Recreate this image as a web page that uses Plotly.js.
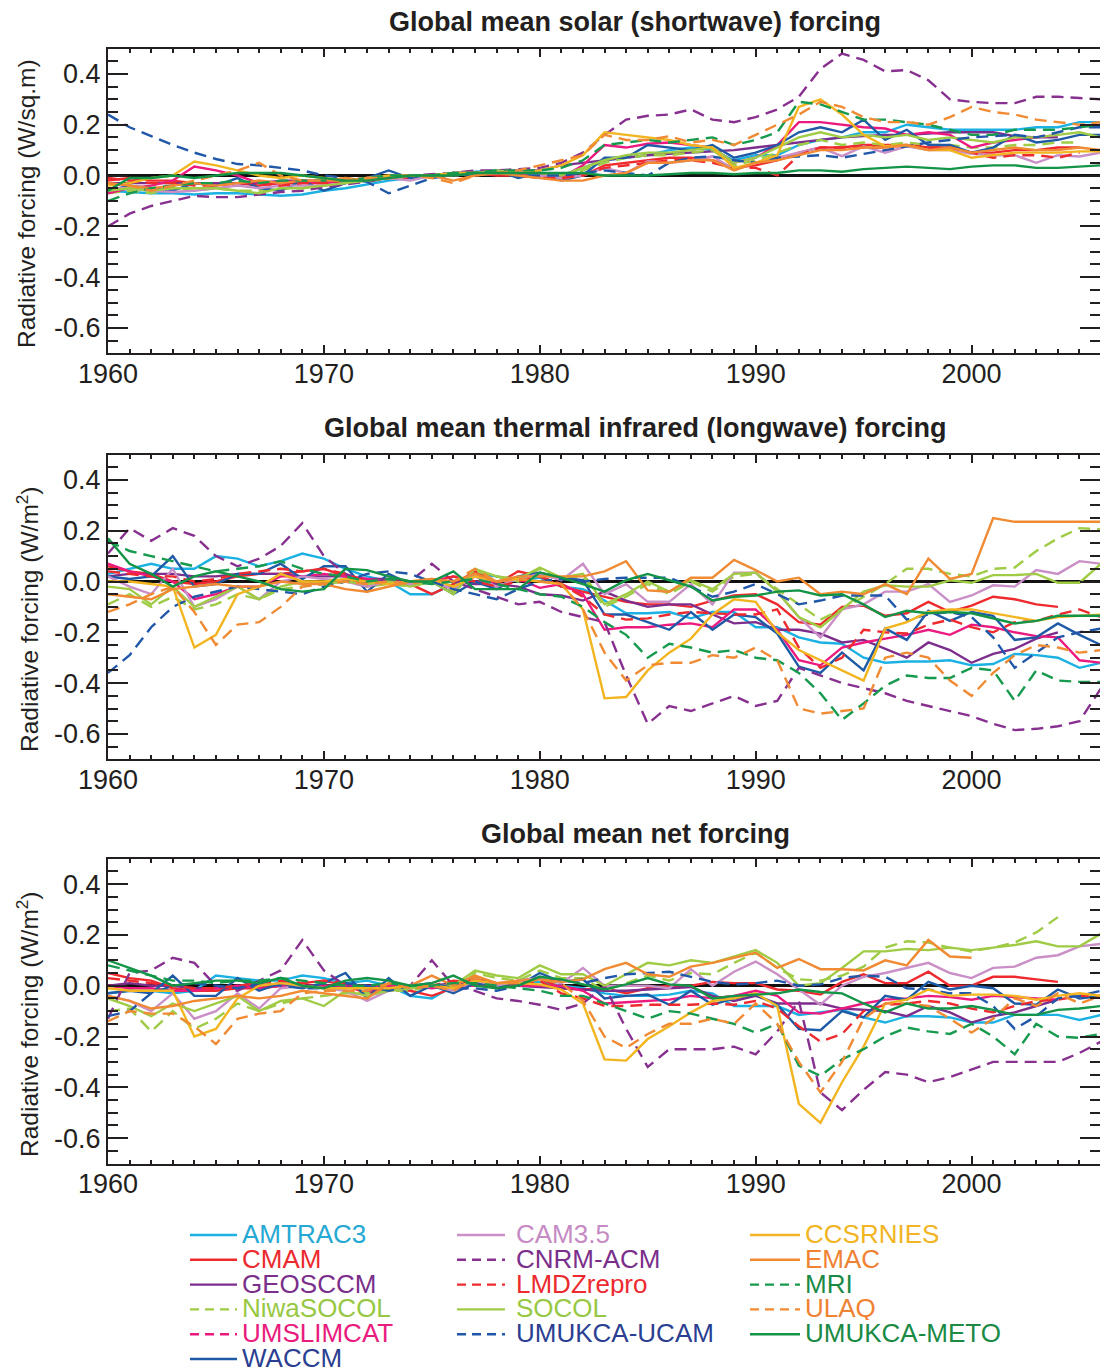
<!DOCTYPE html>
<html>
<head>
<meta charset="utf-8">
<script src="https://cdn.plot.ly/plotly-3.0.1.min.js"></script>
<style>
  html, body { margin: 0; padding: 0; background: #fff; }
  #chart { width: 1100px; height: 1372px; }
</style>
</head>
<body>
<div id="chart"></div>
<script>
// Years of the simulations
const years = [1960,1961,1962,1963,1964,1965,1966,1967,1968,1969,
               1970,1971,1972,1973,1974,1975,1976,1977,1978,1979,
               1980,1981,1982,1983,1984,1985,1986,1987,1988,1989,
               1990,1991,1992,1993,1994,1995,1996,1997,1998,1999,
               2000,2001,2002,2003,2004,2005,2006];

const yTickVals = [0.4, 0.2, 0.0, -0.2, -0.4, -0.6];
const yTickText = ['0.4', '0.2', '0.0', '-0.2', '-0.4', '-0.6'];
const xTickVals = [1960, 1970, 1980, 1990, 2000];
const xTickText = ['1960', '1970', '1980', '1990', '2000'];

const panelTitles = ['Global mean solar (shortwave) forcing',
                     'Global mean thermal infrared (longwave) forcing',
                     'Global mean net forcing'];
const yTitles = ['Radiative forcing (W/sq.m)',
                 'Radiative forcing (W/m<sup>2</sup>)',
                 'Radiative forcing (W/m<sup>2</sup>)'];

// ---------- shortwave forcing (W/m2) ----------
const swAMTRAC3 = [-0.06,-0.065,-0.07,-0.07,-0.075,-0.07,-0.07,-0.075,-0.08,-0.075,
  -0.06,-0.05,-0.035,-0.02,-0.01,0.0,0.01,0.015,0.02,0.01,
  0.01,0.0,0.03,0.06,0.07,0.08,0.1,0.11,0.1,0.06,
  0.08,0.08,0.12,0.14,0.15,0.17,0.17,0.2,0.19,0.18,
  0.18,0.18,0.18,0.19,0.19,0.21,0.21];
const swCAM35 = [-0.05,-0.05,-0.06,-0.065,-0.06,-0.05,-0.04,-0.05,-0.04,-0.04,
  -0.04,-0.03,-0.02,-0.01,-0.02,0.0,0.0,0.01,0.02,0.02,
  0.0,-0.01,0.0,0.03,0.01,0.056,0.05,0.06,0.076,0.024,
  0.05,0.07,0.09,0.11,0.076,0.115,0.09,0.115,0.1,0.1,
  0.085,0.08,0.08,0.05,0.08,0.075,0.09];
const swCCSRNIES = [-0.04,-0.03,-0.01,0.0,0.055,0.04,0.02,0.0,-0.01,0.0,
  -0.01,-0.02,-0.01,0.0,0.0,0.0,0.01,0.01,0.01,0.01,
  0.02,0.04,0.08,0.17,0.16,0.15,0.14,0.12,0.11,0.03,
  0.05,0.08,0.27,0.30,0.24,0.16,0.115,0.12,0.10,0.10,
  0.07,0.08,0.09,0.09,0.09,0.095,0.095];
const swCMAM = [-0.02,-0.01,-0.02,-0.02,-0.03,-0.03,-0.03,-0.04,-0.03,-0.03,
  -0.03,-0.02,-0.02,-0.01,-0.01,0.0,0.0,0.01,0.0,0.0,
  0.0,-0.01,0.0,0.04,0.05,0.06,0.07,0.07,0.06,0.03,
  0.04,0.06,0.09,0.11,0.11,0.12,0.12,0.12,0.11,0.11,
  0.09,0.09,0.1,0.1,0.11,0.11,null];
const swCNRMACM = [-0.2,-0.15,-0.12,-0.1,-0.08,-0.085,-0.085,-0.075,-0.065,-0.06,
  -0.045,-0.035,-0.025,-0.01,0.0,0.005,0.01,0.02,0.02,0.025,
  0.03,0.05,0.09,0.16,0.22,0.235,0.24,0.26,0.22,0.21,
  0.23,0.26,0.31,0.42,0.48,0.455,0.41,0.415,0.375,0.3,
  0.29,0.285,0.285,0.31,0.31,0.305,0.3];
const swEMAC = [-0.03,-0.04,-0.05,-0.04,-0.03,-0.04,-0.03,-0.02,-0.03,-0.02,
  -0.02,-0.01,-0.02,-0.01,0.0,0.0,-0.02,0.0,0.01,0.0,
  -0.01,-0.02,-0.02,0.0,0.01,0.05,0.05,0.06,0.06,0.02,
  0.05,0.06,0.08,0.1,0.1,0.11,0.11,0.12,0.1,0.11,
  0.09,0.1,0.11,0.1,0.1,0.11,0.1];
const swGEOSCCM = [-0.03,-0.03,-0.03,-0.03,-0.03,-0.03,-0.03,-0.03,-0.02,-0.02,
  -0.02,-0.02,-0.01,-0.01,0.0,0.0,0.01,0.01,0.02,0.02,
  0.02,0.04,0.05,0.06,0.07,0.08,0.085,0.09,0.095,0.1,
  0.11,0.12,0.13,0.14,0.15,0.155,0.16,0.16,0.165,0.17,
  0.17,0.17,0.155,0.15,0.15,null,null];
const swLMDZrepro = [-0.01,-0.02,-0.03,-0.03,-0.04,-0.04,-0.03,-0.03,-0.04,-0.03,
  -0.03,-0.02,-0.02,-0.01,0.0,0.0,0.0,0.01,0.01,0.0,
  -0.01,-0.01,0.0,0.03,0.04,0.05,0.06,0.06,0.05,0.03,
  0.03,0.0,0.08,0.11,0.11,0.11,0.11,0.12,0.11,0.11,
  0.09,0.07,0.08,0.08,0.07,0.09,null];
const swMRI = [-0.1,-0.07,-0.05,-0.04,-0.03,-0.03,-0.02,-0.03,-0.02,-0.02,
  -0.02,-0.02,-0.01,0.0,0.0,0.0,0.01,0.01,0.02,0.02,
  0.02,0.03,0.06,0.12,0.13,0.14,0.13,0.14,0.15,0.12,
  0.14,0.17,0.29,0.28,0.25,0.22,0.22,0.21,0.2,0.18,
  0.16,0.16,0.18,0.18,0.18,0.19,0.2];
const swNiwaSOCOL = [-0.07,-0.06,-0.07,-0.05,-0.06,-0.05,-0.06,-0.06,-0.05,-0.05,
  -0.04,-0.03,-0.02,-0.01,-0.01,0.0,0.0,0.01,0.01,0.01,
  0.01,0.0,0.02,0.05,0.07,0.08,0.08,0.09,0.1,0.04,
  0.06,0.09,0.12,0.14,0.12,0.13,0.12,0.13,0.12,0.12,
  0.11,0.11,0.12,0.12,0.13,0.13,null];
const swSOCOL = [-0.06,-0.05,-0.06,-0.05,-0.05,-0.05,-0.06,-0.07,-0.05,-0.05,
  -0.04,-0.03,-0.02,-0.01,0.0,0.0,0.01,0.01,0.02,0.01,
  0.01,0.0,0.03,0.06,0.08,0.09,0.09,0.1,0.11,0.05,
  0.07,0.11,0.15,0.17,0.15,0.16,0.15,0.16,0.14,0.15,
  0.14,0.13,0.15,0.15,0.16,0.17,0.15];
const swULAQ = [-0.03,-0.04,-0.06,-0.04,-0.02,0.0,0.02,0.05,0.0,-0.02,
  -0.02,-0.02,-0.01,-0.01,0.0,-0.01,-0.03,0.0,0.01,0.02,
  0.04,0.06,0.08,0.16,0.14,0.14,0.155,0.13,0.14,0.12,
  0.16,0.2,0.24,0.29,0.27,0.23,0.21,0.21,0.2,0.23,
  0.27,0.25,0.24,0.22,0.21,0.2,0.21];
const swUMSLIMCAT = [-0.07,-0.05,-0.04,-0.02,0.035,0.02,0.0,-0.03,-0.03,-0.02,
  -0.03,-0.02,-0.01,-0.01,0.0,0.0,0.01,0.01,0.01,0.01,
  0.0,-0.01,0.04,0.12,0.11,0.125,0.13,0.12,0.11,0.05,
  0.07,0.12,0.21,0.21,0.2,0.19,0.185,0.16,0.17,0.16,
  0.11,0.13,0.14,0.15,0.16,null,null];
const swUMUKCAUCAM = [0.24,0.19,0.155,0.12,0.09,0.065,0.045,0.04,0.03,0.02,
  0.0,-0.01,-0.025,-0.07,-0.04,-0.01,0.0,0.01,0.01,0.0,
  0.0,0.0,0.01,0.02,0.01,0.0,0.05,0.07,0.075,0.06,
  0.05,0.07,0.075,0.08,0.07,0.085,0.1,0.115,0.13,0.14,
  0.15,0.155,0.16,0.15,0.17,0.19,0.19];
const swUMUKCAMETO = [-0.06,-0.01,-0.01,0.0,-0.01,0.0,0.01,0.01,0.01,0.0,
  -0.01,-0.02,-0.02,-0.01,0.0,0.0,0.0,0.01,0.01,0.01,
  0.01,0.01,0.01,0.0,0.0,0.0,0.005,0.01,0.01,0.005,
  0.01,0.01,0.02,0.02,0.015,0.025,0.03,0.035,0.03,0.025,
  0.035,0.04,0.04,0.03,0.03,0.035,0.04];
const swWACCM = [-0.06,-0.04,-0.05,-0.06,-0.03,-0.04,-0.01,-0.05,-0.06,-0.02,
  -0.06,-0.03,-0.01,0.02,-0.01,0.0,0.01,0.0,0.02,-0.01,
  0.01,-0.02,0.0,0.07,0.07,0.12,0.11,0.1,0.12,0.07,
  0.09,0.12,0.17,0.19,0.17,0.22,0.14,0.18,0.12,0.12,
  0.09,0.11,0.16,0.13,0.14,0.16,0.16];

// ---------- longwave forcing (W/m2) ----------
const lwAMTRAC3 = [0.03,0.05,0.07,0.05,0.05,0.1,0.09,0.06,0.08,0.11,
  0.09,0.05,0.02,0.0,-0.05,-0.05,-0.01,0.03,0.02,0.0,
  0.015,-0.02,-0.03,-0.075,-0.125,-0.125,-0.12,-0.145,-0.12,-0.12,
  -0.18,-0.18,-0.22,-0.24,-0.245,-0.3,-0.32,-0.315,-0.315,-0.31,
  -0.33,-0.325,-0.285,-0.29,-0.3,-0.34,-0.32];
const lwCAM35 = [0.02,-0.02,-0.05,0.05,-0.1,-0.07,-0.02,-0.07,0.0,0.02,
  0.01,0.0,-0.02,0.0,-0.01,0.0,-0.03,0.02,-0.02,0.01,
  0.03,0.005,0.07,-0.05,-0.01,-0.08,-0.08,-0.01,-0.09,0.035,
  0.035,-0.04,-0.14,-0.22,-0.11,-0.09,-0.04,-0.04,-0.01,-0.08,
  -0.055,-0.015,-0.02,0.045,0.03,0.08,0.07];
const lwCCSRNIES = [0.0,0.0,-0.01,-0.02,-0.26,-0.21,-0.05,-0.02,0.03,0.0,
  0.0,0.01,0.0,-0.01,0.0,0.01,-0.02,0.02,0.0,0.01,
  0.0,-0.01,-0.11,-0.46,-0.455,-0.35,-0.28,-0.225,-0.13,-0.07,
  -0.08,-0.2,-0.27,-0.31,-0.35,-0.39,-0.185,-0.16,-0.12,-0.11,
  -0.11,-0.125,-0.14,-0.155,-0.14,-0.135,-0.13];
const lwCMAM = [0.06,0.04,0.03,0.0,-0.01,0.0,0.02,0.03,0.03,0.04,
  0.05,0.02,-0.02,0.0,-0.01,-0.05,-0.01,0.04,-0.01,0.04,
  0.02,-0.02,-0.04,-0.06,-0.08,-0.09,-0.09,-0.1,-0.075,-0.055,
  -0.05,-0.09,-0.16,-0.17,-0.1,-0.095,-0.135,-0.125,-0.08,-0.12,
  -0.095,-0.06,-0.07,-0.09,-0.1,null,null];
const lwCNRMACM = [0.11,0.21,0.16,0.21,0.18,0.1,0.06,0.09,0.14,0.23,
  0.1,0.03,0.0,0.01,0.0,0.07,0.0,-0.03,-0.06,-0.09,
  -0.08,-0.12,-0.14,-0.16,-0.37,-0.56,-0.49,-0.51,-0.48,-0.45,
  -0.49,-0.47,-0.34,-0.37,-0.4,-0.42,-0.44,-0.47,-0.49,-0.51,
  -0.53,-0.56,-0.585,-0.58,-0.57,-0.55,-0.42];
const lwEMAC = [-0.05,-0.06,-0.07,-0.03,-0.02,-0.01,-0.02,-0.02,0.0,-0.01,
  -0.01,-0.03,-0.04,-0.02,0.0,0.01,0.0,0.03,0.0,0.02,
  0.02,0.02,0.02,0.04,0.08,-0.035,-0.04,0.015,0.015,0.085,
  0.045,0.0,0.015,-0.05,-0.04,-0.05,-0.01,-0.05,0.09,0.01,
  0.03,0.25,0.235,0.235,0.235,0.235,0.235];
const lwGEOSCCM = [0.02,0.03,0.03,0.03,0.02,0.02,0.03,0.03,0.03,0.02,
  0.02,0.02,0.01,0.01,0.0,0.0,0.0,-0.01,-0.01,-0.02,
  -0.05,-0.055,-0.075,-0.04,-0.075,-0.1,-0.09,-0.09,-0.13,-0.165,
  -0.16,-0.19,-0.19,-0.205,-0.24,-0.23,-0.265,-0.3,-0.24,-0.27,
  -0.32,-0.285,-0.265,-0.225,-0.2,null,null];
const lwLMDZrepro = [0.04,0.03,0.02,0.02,0.0,0.01,0.03,0.04,0.05,0.04,
  0.05,0.03,0.0,-0.01,0.0,0.0,0.02,0.0,-0.02,0.0,
  0.02,-0.01,-0.06,-0.13,-0.15,-0.145,-0.13,-0.12,-0.125,-0.13,
  -0.13,-0.11,-0.26,-0.34,-0.3,-0.19,-0.2,-0.205,-0.17,-0.15,
  -0.18,-0.2,-0.16,-0.155,-0.13,-0.11,-0.14];
const lwMRI = [0.16,0.12,0.1,0.08,0.06,0.04,0.05,0.06,0.08,0.05,
  0.03,0.02,0.0,0.01,0.0,-0.01,0.0,0.01,-0.01,-0.03,
  -0.05,-0.06,-0.1,-0.16,-0.21,-0.3,-0.245,-0.26,-0.28,-0.27,
  -0.3,-0.31,-0.36,-0.44,-0.545,-0.48,-0.41,-0.37,-0.38,-0.38,
  -0.34,-0.35,-0.47,-0.35,-0.39,-0.395,-0.395];
const lwNiwaSOCOL = [-0.09,-0.05,-0.1,-0.06,-0.11,-0.09,-0.05,-0.07,-0.03,-0.02,
  -0.01,0.0,-0.02,-0.01,-0.02,0.0,-0.04,0.04,0.02,0.0,
  0.05,0.01,0.02,-0.1,-0.06,-0.01,-0.05,0.0,-0.04,0.02,
  0.03,-0.03,-0.09,-0.15,-0.11,-0.06,-0.01,0.05,0.05,0.03,
  0.02,0.05,0.055,0.12,0.17,0.21,0.205];
const lwSOCOL = [-0.02,-0.03,-0.09,-0.02,-0.1,-0.06,-0.02,-0.07,-0.02,0.0,
  -0.01,0.0,-0.01,0.0,-0.02,0.0,-0.05,0.05,0.02,0.01,
  0.055,0.015,0.03,-0.09,-0.05,0.0,-0.04,0.005,-0.03,0.03,
  0.035,-0.04,-0.14,-0.18,-0.11,-0.04,-0.015,-0.02,-0.02,0.005,
  -0.005,0.025,0.025,0.03,-0.005,-0.005,0.07];
const lwULAQ = [-0.12,-0.09,-0.05,-0.02,-0.12,-0.25,-0.17,-0.16,-0.1,-0.02,
  -0.01,0.0,-0.01,0.0,-0.01,0.01,0.0,0.05,0.0,0.01,
  0.0,-0.01,-0.11,-0.28,-0.39,-0.33,-0.32,-0.32,-0.29,-0.3,
  -0.26,-0.31,-0.5,-0.52,-0.51,-0.5,-0.3,-0.28,-0.3,-0.39,
  -0.45,-0.36,-0.29,-0.25,-0.26,-0.28,-0.27];
const lwUMSLIMCAT = [0.07,0.04,0.02,0.0,-0.07,-0.05,-0.02,-0.02,0.02,0.02,
  0.03,0.02,0.01,0.0,0.0,0.0,0.02,0.0,0.0,0.01,
  -0.025,-0.01,-0.05,-0.19,-0.18,-0.18,-0.17,-0.165,-0.18,-0.11,
  -0.11,-0.19,-0.31,-0.33,-0.26,-0.24,-0.225,-0.21,-0.19,-0.21,
  -0.17,-0.18,-0.2,-0.215,-0.22,-0.31,-0.32];
const lwUMUKCAUCAM = [-0.36,-0.29,-0.18,-0.1,-0.06,-0.04,-0.02,-0.03,-0.04,-0.05,
  -0.02,0.0,0.03,0.04,0.03,0.0,-0.03,-0.05,-0.07,-0.03,
  0.0,0.01,0.0,0.01,0.015,0.015,0.015,-0.02,-0.06,-0.04,
  -0.01,-0.05,-0.09,-0.075,-0.055,-0.055,-0.055,-0.15,-0.13,-0.12,
  -0.14,-0.22,-0.34,-0.28,-0.22,-0.2,-0.185];
const lwUMUKCAMETO = [0.17,0.07,0.03,-0.02,0.02,0.04,0.02,0.0,-0.03,-0.04,
  -0.03,0.05,0.045,0.02,0.0,0.0,0.04,-0.03,-0.03,-0.03,
  0.035,0.015,-0.01,-0.04,0.005,0.03,0.005,-0.02,-0.075,-0.06,
  -0.055,-0.04,-0.035,-0.055,-0.05,-0.09,-0.14,-0.115,-0.125,-0.12,
  -0.125,-0.145,-0.165,-0.155,-0.135,-0.135,-0.135];
const lwWACCM = [0.02,0.01,0.02,0.1,-0.02,-0.01,0.03,0.03,0.07,0.01,
  0.06,0.06,-0.04,0.03,-0.01,0.0,-0.05,0.0,-0.03,0.02,
  0.035,0.015,0.005,-0.13,-0.13,-0.16,-0.19,-0.12,-0.19,-0.13,
  -0.14,-0.205,-0.335,-0.36,-0.28,-0.35,-0.185,-0.23,-0.115,-0.155,
  -0.12,-0.135,-0.23,-0.22,-0.165,-0.21,-0.25];

// ---------- net forcing (W/m2) ----------
const netAMTRAC3 = [-0.03,-0.02,-0.02,-0.03,-0.02,0.04,0.03,0.02,0.02,0.04,
  0.03,0.01,0.02,0.0,-0.04,-0.05,0.0,0.03,0.01,0.01,
  0.015,0.0,-0.01,-0.03,-0.04,-0.04,-0.035,-0.02,-0.03,-0.08,
  -0.08,-0.08,-0.115,-0.105,-0.095,-0.125,-0.145,-0.12,-0.12,-0.125,
  -0.145,-0.145,-0.115,-0.115,-0.115,-0.135,-0.115];
const netCAM35 = [-0.04,-0.06,-0.1,-0.03,-0.13,-0.1,-0.03,-0.09,-0.01,0.0,
  -0.01,-0.02,-0.06,-0.02,-0.01,0.0,-0.02,0.02,0.0,0.02,
  0.03,0.01,0.07,0.0,0.0,0.0,-0.01,0.065,0.0,0.055,
  0.095,0.045,-0.015,-0.075,0.0,0.035,0.05,0.07,0.09,0.05,
  0.03,0.07,0.075,0.11,0.12,0.155,0.165];
const netCCSRNIES = [-0.01,-0.02,-0.02,-0.02,-0.2,-0.17,-0.05,0.0,0.01,0.0,
  -0.01,-0.01,-0.01,-0.01,0.0,0.0,-0.01,0.02,0.01,0.01,
  0.005,-0.015,-0.07,-0.29,-0.295,-0.21,-0.16,-0.105,-0.06,-0.05,
  -0.03,-0.08,-0.465,-0.54,-0.38,-0.24,-0.07,-0.055,-0.015,-0.04,
  -0.035,-0.035,-0.04,-0.055,-0.04,-0.03,-0.04];
const netCMAM = [0.05,0.03,0.02,-0.01,-0.02,-0.02,-0.01,-0.01,0.0,0.01,
  0.02,0.0,-0.03,-0.01,-0.02,-0.04,-0.01,0.03,0.0,0.02,
  0.03,-0.01,-0.015,-0.01,-0.03,-0.01,0.0,0.0,0.015,0.01,
  0.01,-0.015,-0.02,-0.035,0.015,0.045,0.01,0.01,0.055,0.0,
  0.0,0.035,0.035,0.025,0.015,null,null];
const netCNRMACM = [-0.13,0.05,0.06,0.11,0.09,0.0,-0.02,0.02,0.06,0.18,
  0.06,0.0,-0.02,-0.01,0.0,0.1,0.0,-0.02,-0.05,-0.06,
  -0.075,-0.095,-0.07,0.0,-0.17,-0.32,-0.25,-0.25,-0.25,-0.24,
  -0.27,-0.18,-0.06,-0.42,-0.49,-0.41,-0.34,-0.35,-0.38,-0.36,
  -0.33,-0.3,-0.3,-0.3,-0.3,-0.265,-0.22];
const netEMAC = [-0.04,-0.06,-0.09,-0.08,-0.06,-0.05,-0.04,-0.05,-0.04,-0.02,
  -0.03,-0.04,-0.05,0.01,0.0,0.04,0.0,0.04,0.01,0.02,
  0.025,0.015,0.025,0.065,0.09,0.045,0.035,0.075,0.09,0.11,
  0.13,0.07,0.105,0.065,0.065,0.06,0.1,0.08,0.18,0.115,
  0.11,null,null,null,null,null,null];
const netGEOSCCM = [0.0,0.01,0.0,0.0,-0.01,-0.01,0.0,0.0,0.01,0.0,
  0.0,0.0,-0.01,0.0,0.0,0.0,0.01,0.0,0.0,0.0,
  -0.005,-0.01,-0.015,-0.02,-0.02,-0.015,-0.01,-0.005,-0.04,-0.06,
  -0.04,-0.07,-0.07,-0.07,-0.09,-0.095,-0.1,-0.12,-0.08,-0.105,
  -0.145,-0.12,-0.105,-0.08,-0.055,null,null];
const netLMDZrepro = [0.03,0.02,0.01,0.0,-0.01,-0.01,0.0,0.01,0.02,0.01,
  0.02,0.01,-0.01,-0.01,-0.01,0.0,0.02,0.01,-0.01,0.0,
  0.02,-0.03,-0.05,-0.08,-0.08,-0.075,-0.075,-0.075,-0.07,-0.075,
  -0.06,-0.09,-0.16,-0.22,-0.19,-0.1,-0.075,-0.07,-0.06,-0.07,
  -0.09,-0.105,-0.08,-0.06,-0.055,-0.04,-0.04];
const netMRI = [0.08,0.06,0.04,0.02,0.02,0.01,0.02,0.02,0.03,0.02,
  0.01,0.0,0.0,0.01,0.0,0.0,0.01,0.01,0.0,-0.01,
  -0.02,-0.04,-0.04,-0.07,-0.1,-0.13,-0.1,-0.11,-0.13,-0.15,
  -0.185,-0.15,-0.315,-0.355,-0.29,-0.25,-0.2,-0.165,-0.18,-0.19,
  -0.15,-0.2,-0.27,-0.15,-0.2,-0.205,-0.19];
const netNiwaSOCOL = [-0.1,-0.09,-0.18,-0.1,-0.17,-0.13,-0.07,-0.1,-0.07,-0.05,
  -0.04,-0.03,-0.03,-0.02,-0.02,0.0,-0.02,0.05,0.03,0.02,
  0.06,0.03,0.03,-0.02,0.01,0.04,0.02,0.05,0.045,0.09,
  0.13,0.07,0.025,0.02,0.04,0.075,0.15,0.175,0.17,0.15,
  0.135,0.15,0.17,0.21,0.27,null,null];
const netSOCOL = [-0.05,-0.08,-0.12,-0.07,-0.1,-0.07,-0.04,-0.1,-0.06,-0.05,
  -0.08,-0.02,-0.04,-0.02,-0.01,0.0,0.0,0.06,0.04,0.03,
  0.08,0.045,0.045,0.0,0.045,0.09,0.08,0.1,0.09,0.115,
  0.14,0.09,0.0,0.01,0.07,0.135,0.135,0.145,0.14,0.15,
  0.14,0.15,0.16,0.175,0.155,0.155,0.205];
const netULAQ = [-0.14,-0.1,-0.11,-0.11,-0.16,-0.23,-0.13,-0.11,-0.1,-0.03,
  -0.02,-0.02,-0.02,0.01,-0.01,0.0,-0.02,0.03,0.01,0.01,
  0.025,0.01,-0.06,-0.2,-0.245,-0.19,-0.15,-0.15,-0.13,-0.15,
  -0.07,-0.15,-0.3,-0.42,-0.3,-0.13,-0.07,-0.07,-0.08,-0.13,
  -0.185,-0.13,-0.05,-0.08,-0.03,-0.07,-0.04];
const netUMSLIMCAT = [0.0,-0.01,-0.01,-0.02,-0.02,-0.01,0.0,-0.01,0.0,0.0,
  0.0,0.0,0.0,0.0,0.0,-0.01,0.0,0.0,0.0,0.0,
  0.0,0.0,-0.02,-0.07,-0.065,-0.06,-0.055,-0.04,-0.05,-0.04,
  -0.02,-0.04,-0.105,-0.11,-0.09,-0.07,-0.055,-0.05,-0.04,-0.045,
  -0.055,-0.04,-0.045,-0.05,-0.055,null,null];
const netUMUKCAUCAM = [-0.12,-0.1,-0.03,0.0,0.01,0.0,-0.01,0.01,0.0,-0.01,
  -0.01,0.01,0.0,-0.02,0.0,0.01,-0.01,-0.01,-0.02,0.0,
  0.035,0.02,0.01,0.03,0.045,0.05,0.055,0.035,0.015,0.005,
  0.01,0.02,0.0,0.005,0.03,0.04,0.035,-0.01,-0.015,-0.03,
  -0.03,-0.08,-0.17,-0.12,-0.05,-0.04,-0.02];
const netUMUKCAMETO = [0.1,0.07,0.04,0.0,0.01,0.02,0.02,0.01,0.03,0.0,
  -0.01,0.02,0.03,0.02,0.0,0.01,0.04,0.0,-0.01,0.0,
  0.035,0.025,0.005,-0.015,0.005,0.03,0.005,0.0,-0.05,-0.04,
  -0.035,-0.03,-0.015,-0.025,-0.03,-0.07,-0.105,-0.07,-0.09,-0.09,
  -0.08,-0.095,-0.115,-0.115,-0.095,-0.09,-0.08];
const netWACCM = [-0.03,-0.02,-0.03,0.04,-0.04,-0.04,0.03,-0.02,0.01,-0.01,
  0.01,0.05,-0.05,0.03,-0.04,0.0,-0.03,0.01,0.0,0.0,
  0.05,0.015,0.025,-0.05,-0.04,-0.035,-0.075,-0.02,-0.075,-0.05,
  -0.035,-0.075,-0.17,-0.175,-0.1,-0.125,-0.04,-0.055,0.015,-0.015,
  0.0,-0.01,-0.07,-0.075,-0.015,-0.05,-0.04];

// ---------- model styles (legend order, three columns) ----------
const DASH = '12px,7px';
const models = [
  {name:'AMTRAC3',     color:'#1cb1e3', text:'#25a8d3', dash:'solid', legDash:'solid', sw:swAMTRAC3,    lw:lwAMTRAC3,    net:netAMTRAC3,    col:0, row:0},
  {name:'CMAM',        color:'#ee2a2e', text:'#ed2a2f', dash:'solid', legDash:'solid', sw:swCMAM,       lw:lwCMAM,       net:netCMAM,       col:0, row:1},
  {name:'GEOSCCM',     color:'#7d2e8d', text:'#7a2f8b', dash:'solid', legDash:'solid', sw:swGEOSCCM,    lw:lwGEOSCCM,    net:netGEOSCCM,    col:0, row:2},
  {name:'NiwaSOCOL',   color:'#9fcb45', text:'#97c844', dash:DASH,    legDash:'dash',  sw:swNiwaSOCOL,  lw:lwNiwaSOCOL,  net:netNiwaSOCOL,  col:0, row:3},
  {name:'UMSLIMCAT',   color:'#ec1a7f', text:'#e91b7d', dash:'solid', legDash:'dash',  sw:swUMSLIMCAT,  lw:lwUMSLIMCAT,  net:netUMSLIMCAT,  col:0, row:4},
  {name:'WACCM',       color:'#1f5aa6', text:'#2b3f92', dash:'solid', legDash:'solid', sw:swWACCM,      lw:lwWACCM,      net:netWACCM,      col:0, row:5},
  {name:'CAM3.5',      color:'#c98fc6', text:'#c68ac4', dash:'solid', legDash:'solid', sw:swCAM35,      lw:lwCAM35,      net:netCAM35,      col:1, row:0},
  {name:'CNRM-ACM',    color:'#87308f', text:'#7a2f8b', dash:DASH,    legDash:'dash',  sw:swCNRMACM,    lw:lwCNRMACM,    net:netCNRMACM,    col:1, row:1},
  {name:'LMDZrepro',   color:'#ee2a2e', text:'#ed2a2f', dash:DASH,    legDash:'dash',  sw:swLMDZrepro,  lw:lwLMDZrepro,  net:netLMDZrepro,  col:1, row:2},
  {name:'SOCOL',       color:'#9fcb45', text:'#97c844', dash:'solid', legDash:'solid', sw:swSOCOL,      lw:lwSOCOL,      net:netSOCOL,      col:1, row:3},
  {name:'UMUKCA-UCAM', color:'#2057a8', text:'#2b3f92', dash:DASH,    legDash:'dash',  sw:swUMUKCAUCAM, lw:lwUMUKCAUCAM, net:netUMUKCAUCAM, col:1, row:4},
  {name:'CCSRNIES',    color:'#f2b520', text:'#f1b523', dash:'solid', legDash:'solid', sw:swCCSRNIES,   lw:lwCCSRNIES,   net:netCCSRNIES,   col:2, row:0},
  {name:'EMAC',        color:'#f08a33', text:'#ef8233', dash:'solid', legDash:'solid', sw:swEMAC,       lw:lwEMAC,       net:netEMAC,       col:2, row:1},
  {name:'MRI',         color:'#169a4e', text:'#1a8a45', dash:DASH,    legDash:'dash',  sw:swMRI,        lw:lwMRI,        net:netMRI,        col:2, row:2},
  {name:'ULAQ',        color:'#f08a33', text:'#ef8233', dash:DASH,    legDash:'dash',  sw:swULAQ,       lw:lwULAQ,       net:netULAQ,       col:2, row:3},
  {name:'UMUKCA-METO', color:'#139447', text:'#1a8a45', dash:'solid', legDash:'solid', sw:swUMUKCAMETO, lw:lwUMUKCAMETO, net:netUMUKCAMETO, col:2, row:4}
];

// ---------- page geometry (pixels) ----------
const W = 1100, H = 1372;
const M = {l: 108, r: 0, t: 48, b: 208};
const plotW = W - M.l - M.r, plotH = H - M.t - M.b;
const px2x = px => (px - M.l) / plotW;
const py2y = py => 1 - (py - M.t) / plotH;
// panel top / bottom edges in pixels
const panelPx = [[48.5, 353.3], [454.5, 759.3], [858.7, 1163.5]];
const titlePy = [22, 428, 834];
const yTitlePy = [204, 619, 1024];

const traces = [];
const fields = ['sw', 'lw', 'net'];
fields.forEach((f, p) => {
  const ax = p === 0 ? '' : String(p + 1);
  models.forEach(m => {
    traces.push({
      type: 'scatter', mode: 'lines',
      x: years, y: m[f], name: m.name,
      xaxis: 'x' + ax, yaxis: 'y' + ax,
      line: {color: m.color, width: 2.4, dash: m.dash},
      connectgaps: false, showlegend: false, hoverinfo: 'skip'
    });
  });
});

const fontFam = '"Liberation Sans", Arial, Helvetica, sans-serif';
const tickFont = {family: fontFam, size: 27, color: '#231f20'};

function xAxis(p) {
  return {
    domain: [0, 1], range: [1960, 2005.95], anchor: p === 0 ? 'y' : 'y' + (p + 1),
    tickmode: 'array', tickvals: xTickVals, ticktext: xTickText,
    ticks: 'inside', ticklen: 8, tickwidth: 2, tickcolor: '#231f20',
    ticklabelstandoff: -5,
    minor: {tickmode: 'linear', tick0: 1960, dtick: 1, ticks: 'inside', ticklen: 4, tickwidth: 2, tickcolor: '#231f20', showgrid: false},
    showline: true, linecolor: '#231f20', linewidth: 2, mirror: 'allticks',
    showgrid: false, zeroline: false, tickfont: tickFont, fixedrange: true
  };
}
function yAxis(p) {
  const d = panelPx[p];
  return {
    domain: [Math.max(0, py2y(d[1])), Math.min(1, py2y(d[0]))],
    range: [-0.7, 0.5], anchor: p === 0 ? 'x' : 'x' + (p + 1),
    tickmode: 'array', tickvals: yTickVals, ticktext: yTickText,
    ticks: 'inside', ticklen: 20, tickwidth: 2, tickcolor: '#231f20',
    minor: {tickmode: 'linear', tick0: 0, dtick: 0.05, ticks: 'inside', ticklen: 10, tickwidth: 2, tickcolor: '#231f20', showgrid: false},
    showline: true, linecolor: '#231f20', linewidth: 2, mirror: 'allticks',
    showgrid: false, zeroline: true, zerolinecolor: '#111', zerolinewidth: 3,
    tickfont: tickFont, fixedrange: true
  };
}

const annotations = [];
const shapes = [];
panelTitles.forEach((t, p) => {
  annotations.push({
    xref: 'paper', yref: 'paper', x: px2x(635), y: py2y(titlePy[p]),
    xanchor: 'center', yanchor: 'middle', showarrow: false,
    text: '<b>' + t + '</b>', font: {family: fontFam, size: 27, color: '#231f20'}
  });
  annotations.push({
    xref: 'paper', yref: 'paper', x: px2x(27), y: py2y(yTitlePy[p]),
    xanchor: 'center', yanchor: 'middle', showarrow: false, textangle: -90,
    text: yTitles[p], font: {family: fontFam, size: 24.5, color: '#231f20'}
  });
});

// custom legend: short line sample followed by coloured name
const legCols = [{l0: 190, l1: 237, tx: 240}, {l0: 457, l1: 505, tx: 514}, {l0: 750, l1: 800, tx: 803}];
const legRow0 = 1234, legRowStep = 24.8;
models.forEach(m => {
  const c = legCols[m.col];
  const py = legRow0 + m.row * legRowStep;
  shapes.push({
    type: 'line', xref: 'paper', yref: 'paper',
    x0: px2x(c.l0), x1: px2x(c.l1), y0: py2y(py + 1), y1: py2y(py + 1),
    line: {color: m.color, width: 2.4, dash: m.legDash === 'solid' ? 'solid' : '9px,6px'}
  });
  annotations.push({
    xref: 'paper', yref: 'paper', x: px2x(c.tx), y: py2y(py),
    xanchor: 'left', yanchor: 'middle', showarrow: false, height: 24, valign: 'middle',
    text: m.name, font: {family: fontFam, size: 26, color: m.text}
  });
});

const layout = {
  width: W, height: H, margin: M,
  paper_bgcolor: '#fff', plot_bgcolor: '#fff',
  showlegend: false,
  xaxis: xAxis(0), yaxis: yAxis(0),
  xaxis2: xAxis(1), yaxis2: yAxis(1),
  xaxis3: xAxis(2), yaxis3: yAxis(2),
  annotations: annotations, shapes: shapes
};

Plotly.newPlot('chart', traces, layout, {staticPlot: true, displayModeBar: false});
</script>
</body>
</html>
